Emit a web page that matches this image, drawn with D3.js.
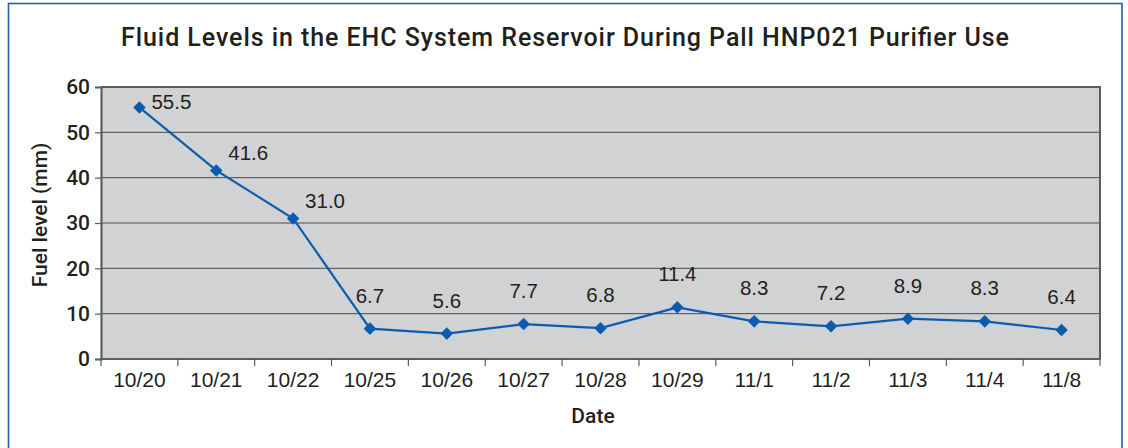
<!DOCTYPE html>
<html><head><meta charset="utf-8">
<script src="https://cdn.jsdelivr.net/npm/d3@7"></script>
<style>
html,body{margin:0;padding:0;background:#fff;}
svg{display:block;}
</style></head>
<body>
<svg id="c" width="1128" height="448"></svg>
<script>
const title = "Fluid Levels in the EHC System Reservoir During Pall HNP021 Purifier Use";
const categories = ["10/20","10/21","10/22","10/25","10/26","10/27","10/28","10/29","11/1","11/2","11/3","11/4","11/8"];
const values = [55.5, 41.6, 31.0, 6.7, 5.6, 7.7, 6.8, 11.4, 8.3, 7.2, 8.9, 8.3, 6.4];
const yTicks = [0, 10, 20, 30, 40, 50, 60];
const yTitle = "Fuel level (mm)";
const xTitle = "Date";

const svg = d3.select("#c");
const m = {left: 101, right: 1100, top: 87, bottom: 359};

// frame
svg.append("rect").attr("x", 8.5).attr("y", 3.5).attr("width", 1113.5).attr("height", 460)
  .attr("fill", "#fff").attr("stroke", "#1a60b4").attr("stroke-width", 1.6);

const x = d3.scaleBand().domain(categories).range([m.left, m.right]);
const y = d3.scaleLinear().domain([0, 60]).range([m.bottom, m.top]);

// plot background
svg.append("rect").attr("x", m.left).attr("y", m.top).attr("width", m.right - m.left)
  .attr("height", m.bottom - m.top).attr("fill", "#d1d2d4");

// grid lines
svg.append("g").selectAll("line").data(yTicks.filter(d => d > 0)).join("line")
  .attr("x1", m.left).attr("x2", m.right)
  .attr("y1", d => y(d)).attr("y2", d => y(d))
  .attr("stroke", d => d === 60 ? "#5e5e5e" : "#4a4a4a")
  .attr("stroke-width", d => d === 60 ? 2 : 1);

// right border
svg.append("line").attr("x1", m.right).attr("x2", m.right).attr("y1", m.top - 1).attr("y2", m.bottom)
  .attr("stroke", "#5e5e5e").attr("stroke-width", 2);

// y axis
const yAxis = svg.append("g").attr("transform", `translate(${m.left},0)`)
  .call(d3.axisLeft(y).tickValues(yTicks).tickSize(6).tickPadding(5));
yAxis.select(".domain").attr("stroke", "#5e5e5e").attr("stroke-width", 2.2);
yAxis.selectAll(".tick line").attr("stroke", "#5e5e5e").attr("stroke-width", 1.2);
yAxis.selectAll("text").attr("font-family", "Roboto, 'Liberation Sans', sans-serif")
  .attr("font-weight", 500).attr("font-size", "21px").attr("fill", "#231f20");

// x axis
const xAxis = svg.append("g").attr("transform", `translate(0,${m.bottom})`)
  .call(d3.axisBottom(x).tickSize(0).tickPadding(13));
xAxis.select(".domain").remove();
xAxis.selectAll("text").attr("font-family", "'Liberation Sans', Arial, sans-serif")
  .attr("font-size", "21px").attr("fill", "#231f20");
svg.append("line").attr("x1", m.left - 1).attr("x2", m.right + 1).attr("y1", m.bottom).attr("y2", m.bottom)
  .attr("stroke", "#5e5e5e").attr("stroke-width", 2.2);
const bounds = categories.map(c => x(c)).concat([m.right]);
svg.append("g").selectAll("line").data(bounds).join("line")
  .attr("x1", d => d).attr("x2", d => d).attr("y1", m.bottom).attr("y2", m.bottom + 7)
  .attr("stroke", "#5e5e5e").attr("stroke-width", 1.2);

// line
const cx = (d, i) => x(categories[i]) + x.bandwidth() / 2;
const line = d3.line().x((d, i) => cx(d, i)).y(d => y(d));
svg.append("path").datum(values).attr("d", line).attr("fill", "none")
  .attr("stroke", "#0b5cae").attr("stroke-width", 2.2);

// markers
svg.append("g").selectAll("path").data(values).join("path")
  .attr("d", d3.symbol().type(d3.symbolDiamond2).size(100))
  .attr("transform", (d, i) => `translate(${cx(d, i)},${y(d)})`)
  .attr("fill", "#0b5cae");

// data labels
svg.append("g").selectAll("text").data(values).join("text")
  .attr("x", (d, i) => i < 3 ? cx(d, i) + 12 : cx(d, i))
  .attr("y", (d, i) => i < 3 ? Math.max(y(d) - 10, m.top + 22) : y(d) - 26)
  .attr("text-anchor", (d, i) => i < 3 ? "start" : "middle")
  .attr("font-family", "'Liberation Sans', Arial, sans-serif")
  .attr("font-size", "20.5px").attr("fill", "#231f20")
  .text(d => d.toFixed(1));

// titles
svg.append("text").attr("x", 565).attr("y", 46).attr("text-anchor", "middle")
  .attr("font-family", "Roboto, 'Liberation Sans', sans-serif").attr("font-weight", 500)
  .attr("font-size", "25px").attr("fill", "#231f20")
  .attr("textLength", 888).attr("lengthAdjust", "spacing").text(title);
svg.append("text").attr("transform", `translate(47,${(m.top + m.bottom) / 2 - 8}) rotate(-90)`)
  .attr("text-anchor", "middle")
  .attr("font-family", "Roboto, 'Liberation Sans', sans-serif").attr("font-weight", 500)
  .attr("font-size", "21px").attr("fill", "#231f20").text(yTitle);
svg.append("text").attr("x", 593).attr("y", 423).attr("text-anchor", "middle")
  .attr("font-family", "Roboto, 'Liberation Sans', sans-serif").attr("font-weight", 500)
  .attr("font-size", "21px").attr("fill", "#231f20").text(xTitle);
</script>
</body></html>
